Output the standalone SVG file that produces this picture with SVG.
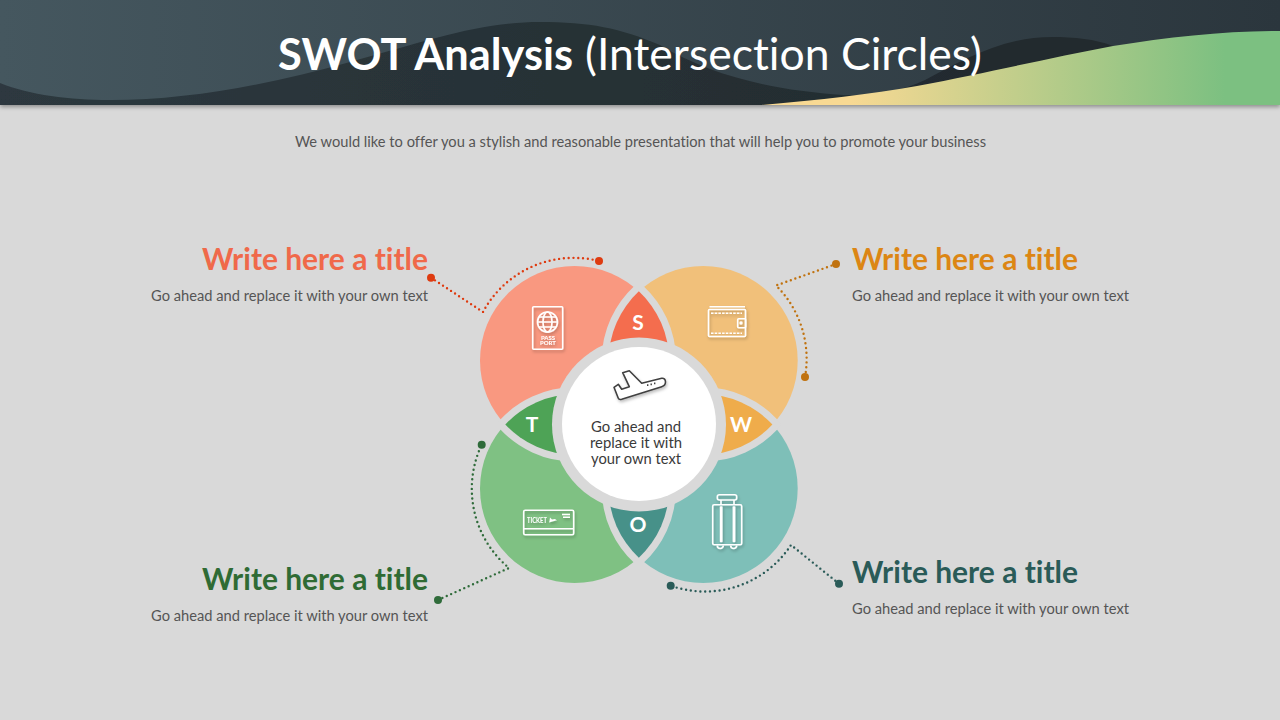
<svg xmlns="http://www.w3.org/2000/svg" width="1280" height="720" viewBox="0 0 1280 720">
<style>
text{font-family:"Lato","Liberation Sans",sans-serif;font-variant-ligatures:none}
.sub{font-size:14.5px;fill:#555}
.ttl{font-size:31px;font-weight:700}
.let{font-size:21px;font-weight:700;fill:#fff;text-anchor:middle}
.lens{paint-order:stroke;stroke:#d9d9d9;stroke-width:14;stroke-miterlimit:10}
.ic{fill:none;stroke:#fff;stroke-width:1.6;stroke-linejoin:round}
.dot{fill:none;stroke-width:2.4;stroke-linecap:round;stroke-dasharray:0 4.8}
</style>
<defs>
<linearGradient id="gA" x1="0" x2="1"><stop offset="0" stop-color="#45575f"/><stop offset="1" stop-color="#2b363d"/></linearGradient>
<linearGradient id="gB" x1="0" x2="1"><stop offset="0" stop-color="#2d393f"/><stop offset="1" stop-color="#1f272a"/></linearGradient>
<linearGradient id="gC" gradientUnits="userSpaceOnUse" x1="850" y1="0" x2="1225" y2="0"><stop offset="0" stop-color="#f8d993"/><stop offset="1" stop-color="#7cc081"/></linearGradient>
<filter id="hs" x="-5%" y="-10%" width="110%" height="130%"><feDropShadow dx="0" dy="2" stdDeviation="2" flood-color="#000" flood-opacity=".35"/></filter>
<filter id="is" x="-30%" y="-30%" width="160%" height="160%"><feDropShadow dx="1" dy="2" stdDeviation="1.5" flood-color="#000" flood-opacity=".25"/></filter>
</defs>
<rect width="1280" height="720" fill="#d9d9d9"/>
<g id="header">
<rect width="1280" height="105" fill="url(#gB)" filter="url(#hs)"/>
<path d="M0 0H1280V60L1113 46C1095 39 1075 37 1052 37C1000 37 960 62 925 80C900 92 870 96 844 95C770 90 710 75 660 45C620 28 590 22 540 22C480 22 430 40 350 62C270 84 190 100 110 100C70 100 30 95 0 83Z" fill="url(#gA)"/>
<path d="M762 105C820 100 870 94 917 86C990 72 1050 58 1113 46C1170 37 1225 31 1280 31V105Z" fill="url(#gC)"/>
<text x="278" y="70" font-size="44" fill="#fff" font-weight="700" textLength="295" lengthAdjust="spacingAndGlyphs">SWOT Analysis</text>
<text x="585" y="70" font-size="44" fill="#fff" textLength="397" lengthAdjust="spacingAndGlyphs">(Intersection Circles)</text>
</g>
<text id="subtitle" class="sub" x="295" y="147" textLength="691" lengthAdjust="spacingAndGlyphs">We would like to offer you a stylish and reasonable presentation that will help you to promote your business</text>
<g id="petals">
<circle id="petal-s" cx="574.5" cy="360.5" r="94.5" fill="#f99880"/>
<circle id="petal-w" cx="703.2" cy="360.5" r="94.5" fill="#f1c07a"/>
<circle id="petal-t" cx="574.5" cy="488.5" r="94.5" fill="#7fc183"/>
<circle id="petal-o" cx="703.2" cy="488.5" r="94.5" fill="#7ebfb8"/>
</g>
<g id="lenses">
<path class="lens" fill="#f46d4e" d="M638.85 291.3A94.5 94.5 0 0 1 638.85 429.7A94.5 94.5 0 0 1 638.85 291.3Z"/>
<path class="lens" fill="#efac4b" d="M634 424.5A94.5 94.5 0 0 1 772.4 424.5A94.5 94.5 0 0 1 634 424.5Z"/>
<path class="lens" fill="#4ea356" d="M505.3 424.5A94.5 94.5 0 0 1 643.7 424.5A94.5 94.5 0 0 1 505.3 424.5Z"/>
<path class="lens" fill="#479189" d="M638.85 419.3A94.5 94.5 0 0 1 638.85 557.7A94.5 94.5 0 0 1 638.85 419.3Z"/>
</g>
<g id="center">
<circle cx="639" cy="424.5" r="87" fill="#d9d9d9"/>
<circle cx="639" cy="424" r="77" fill="#fff"/>
<g filter="url(#is)"><path d="M622.7 372.7L629.3 370.7L641.7 383.3L661.7 378.3Q665.5 378 665.5 382Q665.5 385.5 661.7 386.7L621.7 399.3Q619 400 618.3 398.3L614 387.3L618.3 384.3L621.7 389.3L629.3 386.7Z" fill="#fff" stroke="#404040" stroke-width="1.6" stroke-linejoin="round"/>
<path d="M647 385.2h1.4M650.5 384.4h1.4M654 383.4h1.4" stroke="#404040" stroke-width="1.8" fill="none"/></g>
<text x="636" y="432" text-anchor="middle" font-size="14.5" fill="#3a3a3a" textLength="90" lengthAdjust="spacingAndGlyphs">Go ahead and</text>
<text x="636" y="448" text-anchor="middle" font-size="14.5" fill="#3a3a3a" textLength="92" lengthAdjust="spacingAndGlyphs">replace it with</text>
<text x="636" y="464" text-anchor="middle" font-size="14.5" fill="#3a3a3a" textLength="90" lengthAdjust="spacingAndGlyphs">your own text</text>
</g>
<g id="letters">
<text class="let" x="638" y="330">S</text>
<text class="let" x="532" y="432">T</text>
<text class="let" x="741" y="432">W</text>
<text class="let" x="638" y="532">O</text>
</g>
<g id="connectors">
<path class="dot" stroke="#de3b10" d="M431 277.7L483 312A103 103 0 0 1 599 261"/>
<circle cx="431" cy="277.7" r="4" fill="#de3b10"/><circle cx="599" cy="261" r="4" fill="#de3b10"/>
<path class="dot" stroke="#c0720f" d="M836 264L776 285.5A103 103 0 0 1 805 377"/>
<circle cx="836" cy="264" r="4" fill="#c0720f"/><circle cx="805" cy="377" r="4" fill="#c0720f"/>
<path class="dot" stroke="#2f6b3a" d="M438 600L509 568A103 103 0 0 1 481.7 444.7"/>
<circle cx="438" cy="600" r="4" fill="#2f6b3a"/><circle cx="481.7" cy="444.7" r="4" fill="#2f6b3a"/>
<path class="dot" stroke="#2a5b58" d="M839 583.7L791 545A103 103 0 0 1 670.7 585.7"/>
<circle cx="839" cy="583.7" r="4" fill="#2a5b58"/><circle cx="670.7" cy="585.7" r="4" fill="#2a5b58"/>
</g>
<g id="icon-passport" filter="url(#is)">
<rect class="ic" x="532.7" y="306.7" width="30" height="42.6" rx="1"/>
<circle class="ic" cx="547.5" cy="322" r="10"/>
<ellipse class="ic" cx="547.5" cy="322" rx="4.5" ry="10"/>
<path class="ic" d="M537.5 322H557.5M539 317H556M539 327H556" stroke-width="1.2"/>
<text x="548" y="339.5" font-size="6" fill="#fff" text-anchor="middle" font-weight="700">PASS</text>
<text x="548" y="345" font-size="6" fill="#fff" text-anchor="middle" font-weight="700">PORT</text>
</g>
<g id="icon-wallet" filter="url(#is)">
<rect class="ic" x="708.5" y="309.5" width="37" height="27" rx="1"/>
<path class="ic" d="M709.5 306.8H745"/>
<path class="ic" d="M711 313.2H742M711 333.2H742" stroke-width="1.1" stroke-dasharray="2.5 1.2"/>
<rect class="ic" x="737.7" y="318.7" width="8" height="9" rx="1"/>
<circle cx="741" cy="323" r="1.7" fill="#fff"/>
</g>
<g id="icon-ticket" filter="url(#is)">
<rect class="ic" x="523.7" y="510.3" width="50" height="24.4" rx="1.5"/>
<path class="ic" d="M524 528.7H573.5" stroke-width="1.4"/>
<path class="ic" d="M562 514.5H570M563 517.3H570"/>
<text x="527" y="523" font-size="7" fill="#fff" font-weight="700" textLength="20" lengthAdjust="spacingAndGlyphs">TICKET</text>
<path d="M549 522.5L556 520.5H557L555 519L552 519.5L550 517.5L549.5 521Z" fill="#fff"/>
</g>
<g id="icon-suitcase" filter="url(#is)">
<rect class="ic" x="717.3" y="494.7" width="19.4" height="5.3" rx="2"/>
<rect class="ic" x="712.7" y="504.7" width="29" height="40" rx="1.5"/>
<path class="ic" d="M721 500V504.7M734 500V504.7"/>
<rect class="ic" x="720.6" y="507" width="1.2" height="34.5" stroke-width="1"/>
<rect class="ic" x="733.4" y="507" width="1.2" height="34.5" stroke-width="1"/>
<path class="ic" d="M717.3 545.5A3 3 0 0 0 723.3 545.5M730.7 545.5A3 3 0 0 0 736.7 545.5"/>
</g>
<g id="node-s"><text class="ttl" x="428" y="270" text-anchor="end" fill="#f0694a" textLength="226" lengthAdjust="spacingAndGlyphs">Write here a title</text>
<text class="sub" x="428" y="301" text-anchor="end" textLength="277" lengthAdjust="spacingAndGlyphs">Go ahead and replace it with your own text</text></g>
<g id="node-w"><text class="ttl" x="852" y="270" fill="#dc8614" textLength="226" lengthAdjust="spacingAndGlyphs">Write here a title</text>
<text class="sub" x="852" y="301" textLength="277" lengthAdjust="spacingAndGlyphs">Go ahead and replace it with your own text</text></g>
<g id="node-t"><text class="ttl" x="428" y="590" text-anchor="end" fill="#2f6b34" textLength="226" lengthAdjust="spacingAndGlyphs">Write here a title</text>
<text class="sub" x="428" y="621" text-anchor="end" textLength="277" lengthAdjust="spacingAndGlyphs">Go ahead and replace it with your own text</text></g>
<g id="node-o"><text class="ttl" x="852" y="583" fill="#2a5b58" textLength="226" lengthAdjust="spacingAndGlyphs">Write here a title</text>
<text class="sub" x="852" y="614" textLength="277" lengthAdjust="spacingAndGlyphs">Go ahead and replace it with your own text</text></g>
</svg>
